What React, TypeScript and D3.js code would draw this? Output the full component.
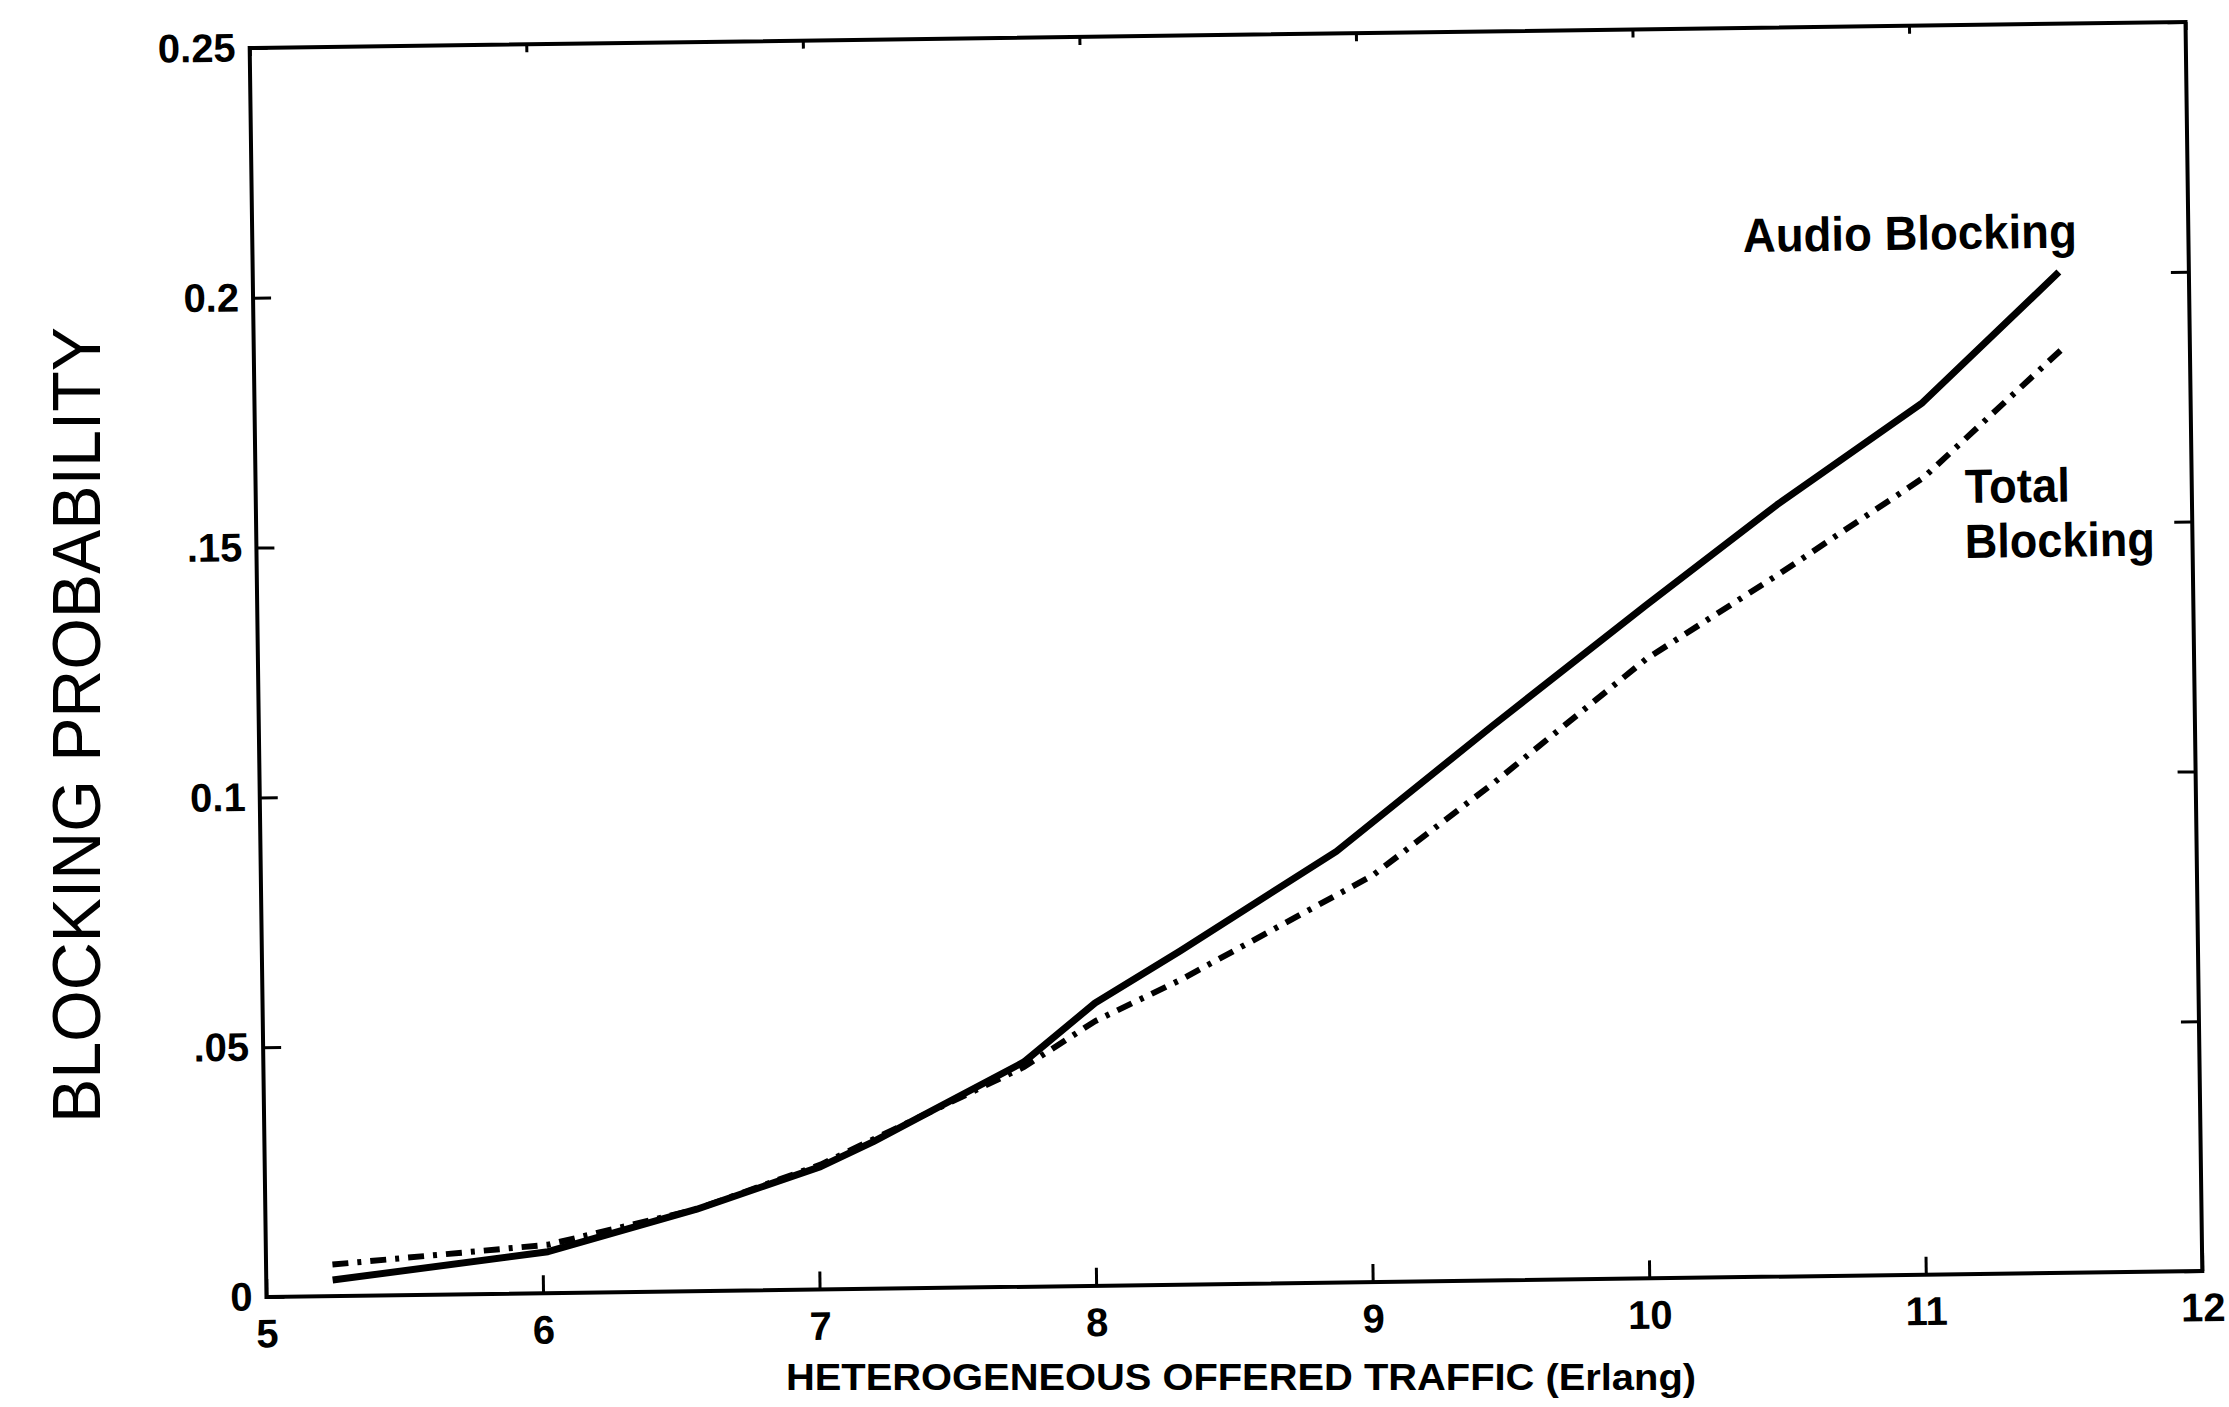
import React, { useEffect, useRef } from "react";
import * as d3 from "d3";

// values
const audioTraffic = [5.24, 6.02, 6.56, 7.01, 7.2, 7.75, 8.01, 8.32, 8.89, 9.46, 10.02, 10.5, 11.03, 11.53];
const audioBlocking = [0.0032, 0.0083, 0.0164, 0.0246, 0.0294, 0.045, 0.0566, 0.0668, 0.0863, 0.111, 0.1347, 0.1545, 0.1745, 0.2003];

const totalTraffic = [5.24, 6.02, 6.56, 7.01, 7.75, 8.01, 8.32, 9.02, 9.46, 10.02, 10.5, 11.03, 11.54];
const totalBlocking = [0.0063, 0.0097, 0.0164, 0.025, 0.044, 0.053, 0.061, 0.0814, 0.0995, 0.124, 0.1405, 0.1595, 0.185];

const xTicks = [5, 6, 7, 8, 9, 10, 11, 12];
const yTicks = [0, 0.05, 0.1, 0.15, 0.2, 0.25];
const yTickLabels = ["0", ".05", "0.1", ".15", "0.2", "0.25"];

const App: React.FC = () => {
  const svgRef = useRef<SVGSVGElement | null>(null);

  useEffect(() => {
    const svg = d3.select(svgRef.current);
    svg.selectAll("*").remove();

    const width = 2229;
    const height = 1407;
    const margin = { top: 35, right: 35, bottom: 123, left: 258 };
    const tilt = -0.77; // the scan is slightly rotated
    const font = "'Liberation Sans', Arial, Helvetica, sans-serif";

    svg.append("rect").attr("width", width).attr("height", height).attr("fill", "#fff");

    const x = d3.scaleLinear().domain([5, 12]).range([margin.left, width - margin.right]);
    const y = d3.scaleLinear().domain([0, 0.25]).range([height - margin.bottom, margin.top]);

    const cx = (margin.left + width - margin.right) / 2;
    const cy = (margin.top + height - margin.bottom) / 2;
    const g = svg.append("g").attr("transform", `rotate(${tilt},${cx},${cy})`);

    // frame
    g.append("rect")
      .attr("x", x(5))
      .attr("y", y(0.25))
      .attr("width", x(12) - x(5))
      .attr("height", y(0) - y(0.25))
      .attr("fill", "none")
      .attr("stroke", "#000")
      .attr("stroke-width", 4);

    // inward ticks
    const tickLen = 18;
    g.append("g")
      .attr("transform", `translate(0,${y(0)})`)
      .call(d3.axisBottom(x).tickValues(xTicks).tickSizeInner(-tickLen).tickSizeOuter(0).tickPadding(22).tickFormat(d3.format("d")))
      .call((a) => a.select(".domain").remove())
      .call((a) => a.selectAll("line").attr("stroke", "#000").attr("stroke-width", 3))
      .call((a) => a.selectAll("text").attr("font-family", font).attr("font-weight", "bold").attr("font-size", 40).attr("fill", "#000"));

    g.append("g")
      .attr("transform", `translate(0,${y(0.25)})`)
      .call(d3.axisTop(x).tickValues(xTicks).tickSizeInner(-8).tickSizeOuter(0).tickFormat(() => ""))
      .call((a) => a.select(".domain").remove())
      .call((a) => a.selectAll("line").attr("stroke", "#000").attr("stroke-width", 3));

    g.append("g")
      .attr("transform", `translate(${x(5)},0)`)
      .call(d3.axisLeft(y).tickValues(yTicks).tickSizeInner(-tickLen).tickSizeOuter(0).tickPadding(14).tickFormat((_, i) => yTickLabels[i]))
      .call((a) => a.select(".domain").remove())
      .call((a) => a.selectAll("line").attr("stroke", "#000").attr("stroke-width", 3))
      .call((a) => a.selectAll("text").attr("font-family", font).attr("font-weight", "bold").attr("font-size", 40).attr("fill", "#000"));

    g.append("g")
      .attr("transform", `translate(${x(12)},0)`)
      .call(d3.axisRight(y).tickValues(yTicks).tickSizeInner(-tickLen).tickSizeOuter(0).tickFormat(() => ""))
      .call((a) => a.select(".domain").remove())
      .call((a) => a.selectAll("line").attr("stroke", "#000").attr("stroke-width", 3));

    // curves
    const line = d3
      .line<[number, number]>()
      .x((d) => x(d[0]))
      .y((d) => y(d[1]));

    const totalData = totalTraffic.map((t, i) => [t, totalBlocking[i]] as [number, number]);
    const audioData = audioTraffic.map((t, i) => [t, audioBlocking[i]] as [number, number]);

    g.append("path")
      .datum(totalData)
      .attr("fill", "none")
      .attr("stroke", "#000")
      .attr("stroke-width", 6)
      .attr("stroke-dasharray", "16 9 4 9")
      .attr("d", line);

    g.append("path")
      .datum(audioData)
      .attr("fill", "none")
      .attr("stroke", "#000")
      .attr("stroke-width", 7)
      .attr("stroke-linejoin", "round")
      .attr("d", line);

    // annotations
    const note = (tx: number, ty: number, s: string, len: number) =>
      svg
        .append("text")
        .attr("x", tx)
        .attr("y", ty)
        .attr("transform", `rotate(${tilt},${tx},${ty})`)
        .attr("font-family", font)
        .attr("font-weight", "bold")
        .attr("font-size", 48)
        .attr("textLength", len)
        .attr("lengthAdjust", "spacingAndGlyphs")
        .text(s);

    note(1743, 252, "Audio Blocking", 334);
    note(1965, 503, "Total", 105);
    note(1965, 558, "Blocking", 190);

    // axis titles
    svg
      .append("text")
      .attr("x", 1241)
      .attr("y", 1390)
      .attr("text-anchor", "middle")
      .attr("font-family", font)
      .attr("font-weight", "bold")
      .attr("font-size", 36)
      .attr("textLength", 910)
      .attr("lengthAdjust", "spacingAndGlyphs")
      .text("HETEROGENEOUS OFFERED TRAFFIC (Erlang)");

    svg
      .append("text")
      .attr("transform", "translate(100,725) rotate(-90)")
      .attr("text-anchor", "middle")
      .attr("font-family", font)
      .attr("font-size", 68)
      .attr("textLength", 796)
      .attr("lengthAdjust", "spacingAndGlyphs")
      .text("BLOCKING PROBABILITY");
  }, []);

  return (
    <svg
      ref={svgRef}
      width={2229}
      height={1407}
      style={{ position: "absolute", left: 0, top: 0, display: "block" }}
    ></svg>
  );
};

export default App;
